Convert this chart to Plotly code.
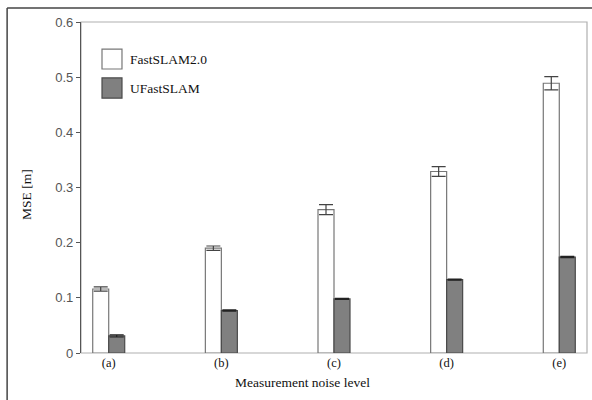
import plotly.graph_objects as go

categories = ["(a)", "(b)", "(c)", "(d)", "(e)"]
fast_slam2 = [0.116, 0.190, 0.260, 0.329, 0.489]
fast_slam2_err = [0.004, 0.004, 0.009, 0.009, 0.012]
ufast_slam = [0.031, 0.077, 0.098, 0.133, 0.174]
ufast_slam_err = [0.002, 0.001, 0.001, 0.001, 0.001]
legend_names = ["FastSLAM2.0", "UFastSLAM"]
y_ticks = [0, 0.1, 0.2, 0.3, 0.4, 0.5, 0.6]
y_tick_text = ["0", "0.1", "0.2", "0.3", "0.4", "0.5", "0.6"]

xpos = list(range(len(categories)))
BW = 0.142
serif = "Liberation Serif, Times New Roman, serif"
sans = "Liberation Sans, Arial, sans-serif"

fig = go.Figure()
fig.add_trace(go.Bar(
    x=xpos, y=fast_slam2, width=BW, offset=-BW, name=legend_names[0],
    marker=dict(color="white", line=dict(color="#777777", width=1.2)),
    error_y=dict(type="data", array=fast_slam2_err, color="#444444", thickness=1.2, width=7),
    showlegend=False,
))
fig.add_trace(go.Bar(
    x=xpos, y=ufast_slam, width=BW, offset=0, name=legend_names[1],
    marker=dict(color="#808080", line=dict(color="#4a4a4a", width=1.2)),
    error_y=dict(type="data", array=ufast_slam_err, color="#222222", thickness=1.2, width=7),
    showlegend=False,
))

shapes = [
    dict(type="rect", xref="paper", yref="paper", x0=0, y0=0, x1=1, y1=1,
         line=dict(color="#b0b0b0", width=1.2), layer="below"),
    dict(type="line", xref="paper", yref="paper", x0=-0.146, y0=1.042, x1=1.05, y1=1.042,
         line=dict(color="#444444", width=1.5)),
    dict(type="line", xref="paper", yref="paper", x0=-0.146, y0=1.042, x1=-0.146, y1=-0.2,
         line=dict(color="#444444", width=1.5)),
    dict(type="rect", xref="paper", yref="paper", x0=0.0415, x1=0.081, y0=0.858, y1=0.918,
         fillcolor="white", line=dict(color="#777777", width=1.2)),
    dict(type="rect", xref="paper", yref="paper", x0=0.0415, x1=0.081, y0=0.770, y1=0.831,
         fillcolor="#808080", line=dict(color="#4a4a4a", width=1.2)),
]

annotations = [
    dict(text=legend_names[0], xref="paper", yref="paper", x=0.093, y=0.888,
         xanchor="left", yanchor="middle", showarrow=False,
         font=dict(family=serif, size=13.5, color="#111111")),
    dict(text=legend_names[1], xref="paper", yref="paper", x=0.093, y=0.800,
         xanchor="left", yanchor="middle", showarrow=False,
         font=dict(family=serif, size=13.5, color="#111111")),
    dict(text="MSE [m]", xref="paper", yref="paper", x=-0.109, y=0.48,
         xanchor="center", yanchor="middle", textangle=-90, showarrow=False,
         font=dict(family=serif, size=13.5, color="#111111")),
    dict(text="Measurement noise level", xref="paper", yref="paper", x=0.437, y=-0.088,
         xanchor="center", yanchor="middle", showarrow=False,
         font=dict(family=serif, size=13.5, color="#111111")),
]

fig.update_layout(
    width=592, height=400,
    margin=dict(l=81, r=5, t=22, b=47),
    paper_bgcolor="white", plot_bgcolor="white",
    barmode="overlay",
    shapes=shapes, annotations=annotations,
    xaxis=dict(
        range=[-0.246, 4.246], tickmode="array", tickvals=xpos, ticktext=categories,
        showgrid=False, zeroline=False, showline=False, ticks="",
        tickfont=dict(family=serif, size=12.5, color="#111111"),
    ),
    yaxis=dict(
        range=[0, 0.6], tickmode="array", tickvals=y_ticks, ticktext=y_tick_text,
        showgrid=False, zeroline=False, showline=True, linecolor="#555555", linewidth=1.2,
        ticks="outside", ticklen=4, tickcolor="#555555",
        tickfont=dict(family=sans, size=13, color="#555555"),
    ),
)

fig.write_html("out.html", config={"displayModeBar": False},
               post_script="document.body.style.margin='0';document.body.style.overflow='hidden';")
